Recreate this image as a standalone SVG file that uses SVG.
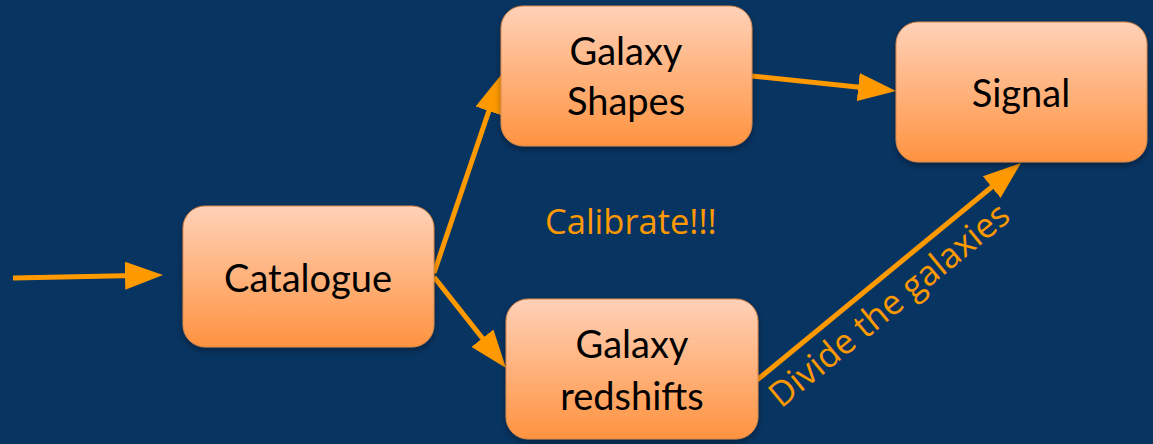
<svg xmlns="http://www.w3.org/2000/svg" width="1153" height="444" viewBox="0 0 1153 444">
  <defs>
    <linearGradient id="boxFill" x1="0" y1="0" x2="0" y2="1">
      <stop offset="0" stop-color="#FFD1B8"/>
      <stop offset="1" stop-color="#FF9340"/>
    </linearGradient>
    <filter id="shadow" x="-10%" y="-10%" width="120%" height="130%">
      <feDropShadow dx="0" dy="3" stdDeviation="3" flood-color="#000" flood-opacity="0.35"/>
    </filter>
    <!-- tip sits 15px past the end of the line so the stroke stays inside the head -->
    <marker id="head" markerUnits="userSpaceOnUse" markerWidth="38" markerHeight="28" refX="23" refY="14" orient="auto">
      <path d="M0,0 L38,14 L0,28 z" fill="#FF9900"/>
    </marker>
    <style>
      .box { fill: url(#boxFill); stroke: #D9884A; stroke-width: 1; filter: url(#shadow); }
      .label { font-family: Lato, "Liberation Sans", sans-serif; font-size: 38px; fill: #000; text-anchor: middle; }
      .note { font-family: "Open Sans", "Noto Sans", sans-serif; font-size: 34.5px; fill: #FF9900; }
      .edge { stroke: #FF9900; stroke-width: 5; fill: none; marker-end: url(#head); }
    </style>
  </defs>

  <rect width="1153" height="444" fill="#083461"/>

  <g id="connectors">
    <line class="edge" x1="13" y1="278" x2="148" y2="275.3"/>
    <line class="edge" x1="434" y1="273" x2="496.2" y2="89.2"/>
    <line class="edge" x1="434" y1="277" x2="496.7" y2="356.2"/>
    <line class="edge" x1="752" y1="76" x2="881.1" y2="89.4"/>
    <line class="edge" x1="757" y1="380" x2="1009.4" y2="172.5"/>
  </g>

  <g id="catalogue">
    <rect class="box" x="183" y="206" width="251" height="141" rx="22"/>
    <text class="label" x="308" y="292">Catalogue</text>
  </g>

  <g id="galaxy-shapes">
    <rect class="box" x="501" y="6" width="251" height="140" rx="22"/>
    <text class="label" x="626" y="65">Galaxy</text>
    <text class="label" x="626" y="115">Shapes</text>
  </g>

  <g id="signal">
    <rect class="box" x="896" y="22" width="251" height="140" rx="22"/>
    <text class="label" x="1021" y="107">Signal</text>
  </g>

  <g id="galaxy-redshifts">
    <rect class="box" x="506" y="299" width="252" height="140" rx="22"/>
    <text class="label" x="632" y="358">Galaxy</text>
    <text class="label" x="632" y="410">redshifts</text>
  </g>

  <g id="annotations">
    <text class="note" x="545" y="234">Calibrate!!!</text>
    <text class="note" x="781" y="409" transform="rotate(-39.4 781 409)">Divide the galaxies</text>
  </g>
</svg>
